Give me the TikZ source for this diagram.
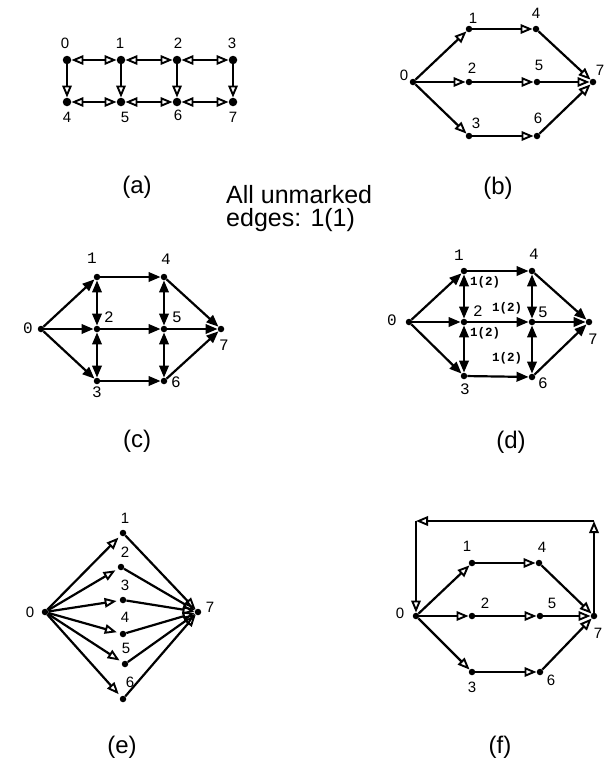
\documentclass[tikz,border=0pt]{standalone}
\usepackage{fontspec}
\setmainfont{Liberation Sans}
\setmonofont{Liberation Mono}
\usetikzlibrary{arrows.meta}
\tikzset{
  dot/.style={circle,fill=black,inner sep=0pt,minimum size=6.5pt},
  num/.style={font=\fontsize{15}{15}\selectfont,inner sep=0pt},
  cnum/.style={font=\ttfamily\fontsize{16}{16}\selectfont,inner sep=0pt},
  flow/.style={font=\ttfamily\bfseries\fontsize{12.5}{12.5}\selectfont,inner sep=0pt},
  capt/.style={font=\fontsize{24}{24}\selectfont,inner sep=0pt},
  opentip/.tip={Triangle[open,length=12pt,width=9.5pt,line width=1.9pt]},
  fulltip/.tip={Triangle[length=12pt,width=9.5pt]},
  edg/.style={line width=2.2pt,-opentip},
  bi/.style={line width=2.2pt,opentip-opentip},
  fedg/.style={line width=2.2pt,-fulltip},
  fbi/.style={line width=2.2pt,fulltip-fulltip},
}

\begin{document}
\begin{tikzpicture}[x=1pt,y=-1pt]
	\useasboundingbox (0,0) rectangle (605,766);
	
	% (a)
	\node[dot,minimum size=8.5pt] (a0) at (67,60) {};  \node[num] (a0t) at (65,43) {0};
	\node[dot,minimum size=8.5pt] (a1) at (121,60) {}; \node[num] (a1t) at (120,43) {1};
	\node[dot,minimum size=8.5pt] (a2) at (177,60) {}; \node[num] (a2t) at (178,43) {2};
	\node[dot,minimum size=8.5pt] (a3) at (233,60) {}; \node[num] (a3t) at (232,43) {3};
	\node[dot,minimum size=8.5pt] (a4) at (67,102) {};  \node[num] (a4t) at (67,117) {4};
	\node[dot,minimum size=8.5pt] (a5) at (121,102) {}; \node[num] (a5t) at (125,117) {5};
	\node[dot,minimum size=8.5pt] (a6) at (177,102) {}; \node[num] (a6t) at (178,115) {6};
	\node[dot,minimum size=8.5pt] (a7) at (233,102) {}; \node[num] (a7t) at (233,117) {7};
	\draw[bi] (a0) -- (a1);
	\draw[bi] (a1) -- (a2);
	\draw[bi] (a2) -- (a3);
	\draw[bi] (a4) -- (a5);
	\draw[bi] (a5) -- (a6);
	\draw[bi] (a6) -- (a7);
	\draw[edg] (a0) -- (a4);
	\draw[edg] (a1) -- (a5);
	\draw[edg] (a2) -- (a6);
	\draw[edg] (a3) -- (a7);
	\node[capt] (capa) at (137,187) {(a)};
	
	% (b)
	\node[dot] (b0) at (413,82) {};  \node[num] (b0t) at (404,75) {0};
	\node[dot] (b1) at (469,29) {};  \node[num] (b1t) at (473,18) {1};
	\node[dot] (b2) at (469,82) {};  \node[num] (b2t) at (472,68) {2};
	\node[dot] (b3) at (469,136) {}; \node[num] (b3t) at (476,123) {3};
	\node[dot] (b4) at (536,29) {};  \node[num] (b4t) at (536,13) {4};
	\node[dot] (b5) at (537,82) {};  \node[num] (b5t) at (539,65) {5};
	\node[dot] (b6) at (537,136) {}; \node[num] (b6t) at (538,118) {6};
	\node[dot] (b7) at (593,82) {};  \node[num] (b7t) at (600,70) {7};
	\draw[edg] (b0) -- (b1);
	\draw[edg] (b0) -- (b2);
	\draw[edg] (b0) -- (b3);
	\draw[edg] (b1) -- (b4);
	\draw[edg] (b2) -- (b5);
	\draw[edg] (b3) -- (b6);
	\draw[edg] (b4) -- (b7);
	\draw[edg] (b5) -- (b7);
	\draw[edg] (b6) -- (b7);
	\node[capt] (capb) at (498,188) {(b)};
	
	\node[anchor=north west,align=left,inner sep=0pt,font=\fontsize{25}{23}\selectfont] (note) at (226,185) {All unmarked\\edges: 1(1)};
	
	% (c)
	\node[dot] (c0) at (41,329) {};  \node[cnum] (c0t) at (28,328) {0};
	\node[dot] (c1) at (97,277) {};  \node[cnum] (c1t) at (92,258) {1};
	\node[dot] (c2) at (97,329) {};  \node[cnum] (c2t) at (109,317) {2};
	\node[dot] (c3) at (97,381) {};  \node[cnum] (c3t) at (97,392) {3};
	\node[dot] (c4) at (164,277) {}; \node[cnum] (c4t) at (166,259) {4};
	\node[dot] (c5) at (164,329) {}; \node[cnum] (c5t) at (177,317) {5};
	\node[dot] (c6) at (164,381) {}; \node[cnum] (c6t) at (176,382) {6};
	\node[dot] (c7) at (221,329) {}; \node[cnum] (c7t) at (224,345) {7};
	\draw[fedg] (c0) -- (c1);
	\draw[fedg] (c0) -- (c2);
	\draw[fedg] (c0) -- (c3);
	\draw[fedg] (c1) -- (c4);
	\draw[fedg] (c2) -- (c5);
	\draw[fedg] (c3) -- (c6);
	\draw[fedg] (c4) -- (c7);
	\draw[fedg] (c5) -- (c7);
	\draw[fedg] (c6) -- (c7);
	\draw[fbi] (c1) -- (c2);
	\draw[fbi] (c2) -- (c3);
	\draw[fbi] (c4) -- (c5);
	\draw[fbi] (c5) -- (c6);
	\node[capt] (capc) at (137,441) {(c)};
	
	% (d)
	\node[dot] (d0) at (409,322) {}; \node[cnum] (d0t) at (392,320) {0};
	\node[dot] (d1) at (464,271) {}; \node[cnum] (d1t) at (459,255) {1};
	\node[dot] (d2) at (464,322) {}; \node[cnum] (d2t) at (478,311) {2};
	\node[dot] (d3) at (464,376) {}; \node[cnum] (d3t) at (465,389) {3};
	\node[dot] (d4) at (532,271) {}; \node[cnum] (d4t) at (534,254) {4};
	\node[dot] (d5) at (532,322) {}; \node[cnum] (d5t) at (543,312) {5};
	\node[dot] (d6) at (532,377) {}; \node[cnum] (d6t) at (543,383) {6};
	\node[dot] (d7) at (589,322) {}; \node[cnum] (d7t) at (593,339) {7};
	\draw[fedg] (d0) -- (d1);
	\draw[fedg] (d0) -- (d2);
	\draw[fedg] (d0) -- (d3);
	\draw[fedg] (d1) -- (d4);
	\draw[fedg] (d2) -- (d5);
	\draw[fedg] (d3) -- (d6);
	\draw[fedg] (d4) -- (d7);
	\draw[fedg] (d5) -- (d7);
	\draw[fedg] (d6) -- (d7);
	\draw[fbi] (d1) -- (d2);
	\draw[fbi] (d2) -- (d3);
	\draw[fbi] (d4) -- (d5);
	\draw[fbi] (d5) -- (d6);
	\node[flow] (f12) at (485,282) {1(2)};
	\node[flow] (f25) at (507,308) {1(2)};
	\node[flow] (f23) at (485,333) {1(2)};
	\node[flow] (f56) at (507,358) {1(2)};
	\node[capt] (capd) at (511,442) {(d)};
	
	% (e)
	\node[dot] (e0) at (45,612) {};  \node[num] (e0t) at (30,612) {0};
	\node[dot] (e1) at (123,533) {}; \node[num] (e1t) at (125,518) {1};
	\node[dot] (e2) at (121,567) {}; \node[num] (e2t) at (125,552) {2};
	\node[dot] (e3) at (123,600) {}; \node[num] (e3t) at (125,585) {3};
	\node[dot] (e4) at (123,634) {}; \node[num] (e4t) at (125,617) {4};
	\node[dot] (e5) at (125,664) {}; \node[num] (e5t) at (126,648) {5};
	\node[dot] (e6) at (123,699) {}; \node[num] (e6t) at (130,682) {6};
	\node[dot] (e7) at (198,612) {}; \node[num] (e7t) at (210,607) {7};
	\draw[edg,shorten >=3pt] (e0) -- (e1);
	\draw[edg,shorten >=3pt] (e0) -- (e2);
	\draw[edg,shorten >=3pt] (e0) -- (e3);
	\draw[edg,shorten >=3pt] (e0) -- (e4);
	\draw[edg,shorten >=3pt] (e0) -- (e5);
	\draw[edg,shorten >=3pt] (e0) -- (e6);
	\draw[edg] (e1) -- (e7);
	\draw[edg] (e2) -- (e7);
	\draw[edg] (e3) -- (e7);
	\draw[edg] (e4) -- (e7);
	\draw[edg] (e5) -- (e7);
	\draw[edg] (e6) -- (e7);
	\node[capt] (cape) at (122,747) {(e)};
	
	% (f)
	\node[dot] (f0) at (416,616) {}; \node[num] (f0t) at (400,613) {0};
	\node[dot] (f1) at (472,563) {}; \node[num] (f1t) at (467,546) {1};
	\node[dot] (f2) at (472,616) {}; \node[num] (f2t) at (485,603) {2};
	\node[dot] (f3) at (472,672) {}; \node[num] (f3t) at (472,687) {3};
	\node[dot] (f4) at (539,563) {}; \node[num] (f4t) at (542,547) {4};
	\node[dot] (f5) at (540,616) {}; \node[num] (f5t) at (552,603) {5};
	\node[dot] (f6) at (540,672) {}; \node[num] (f6t) at (551,680) {6};
	\node[dot] (f7) at (594,616) {}; \node[num] (f7t) at (598,633) {7};
	\coordinate (fup) at (594,521);
	\coordinate (fleft) at (416,521);
	\draw[edg] (f0) -- (f1);
	\draw[edg] (f0) -- (f2);
	\draw[edg] (f0) -- (f3);
	\draw[edg] (f1) -- (f4);
	\draw[edg] (f2) -- (f5);
	\draw[edg] (f3) -- (f6);
	\draw[edg] (f4) -- (f7);
	\draw[edg] (f5) -- (f7);
	\draw[edg] (f6) -- (f7);
	\draw[edg] (f7) -- (fup);
	\draw[edg] (fup) -- (fleft);
	\draw[edg] (fleft) -- (f0);
	\node[capt] (capf) at (500,747) {(f)};
\end{tikzpicture}
\end{document}
